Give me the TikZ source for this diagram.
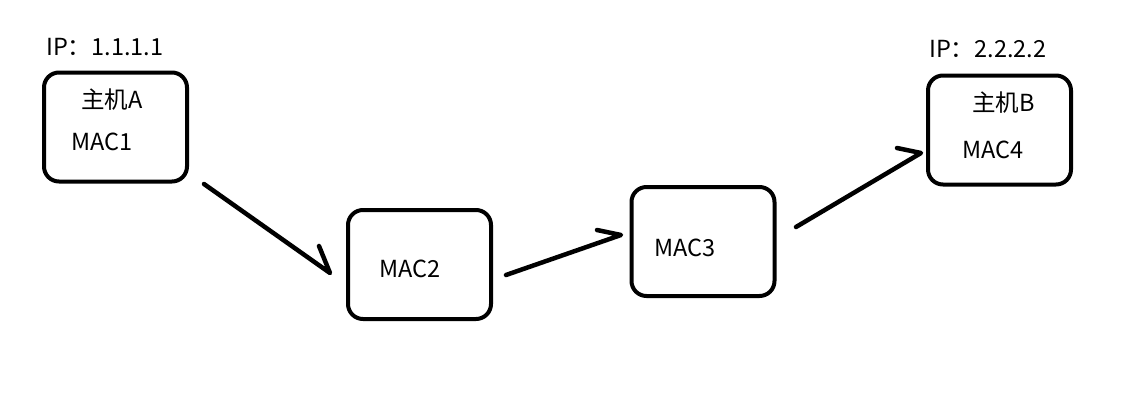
\documentclass[tikz,border=0pt]{standalone}
\usepackage{fontspec}
\setmainfont{Noto Sans CJK SC}
\begin{document}
\begin{tikzpicture}[x=1pt,y=-1pt,
  hostbox/.style={draw=black,line width=4pt,rounded corners=15pt,minimum width=143pt,minimum height=109pt,inner sep=0pt},
  lbl/.style={font=\fontsize{23.5}{27}\selectfont,inner sep=0pt,anchor=west},
  conn/.style={line width=4.5pt,line cap=round,line join=round}]
\fill[white] (0,0) rectangle (1130,400);
\useasboundingbox (0,0) rectangle (1130,400);
\node[hostbox] (A) at (115.5,127) {};
\node[hostbox] (M2) at (419.5,264.5) {};
\node[hostbox] (M3) at (703,241.5) {};
\node[hostbox] (B) at (999.5,130) {};
\node[lbl] (ipA) at (46,47) {IP：1.1.1.1};
\node[lbl] (nA) at (81,100) {主机A};
\node[lbl] (mac1) at (71,142) {MAC1};
\node[lbl] (mac2) at (379,269) {MAC2};
\node[lbl] (mac3) at (654,248) {MAC3};
\node[lbl] (ipB) at (929,49) {IP：2.2.2.2};
\node[lbl] (nB) at (972,103) {主机B};
\node[lbl] (mac4) at (962,150) {MAC4};
\coordinate (s1) at (204,184);
\coordinate (t1) at (330,273);
\coordinate (a1) at (319,246);
\coordinate (s2) at (506,275);
\coordinate (t2) at (621,235);
\coordinate (a2) at (597,230);
\coordinate (s3) at (796,227);
\coordinate (t3) at (921,153);
\coordinate (a3) at (897,148);
\draw[conn] (s1) -- (t1) -- (a1);
\draw[conn] (s2) -- (t2) -- (a2);
\draw[conn] (s3) -- (t3) -- (a3);
\end{tikzpicture}
\end{document}
